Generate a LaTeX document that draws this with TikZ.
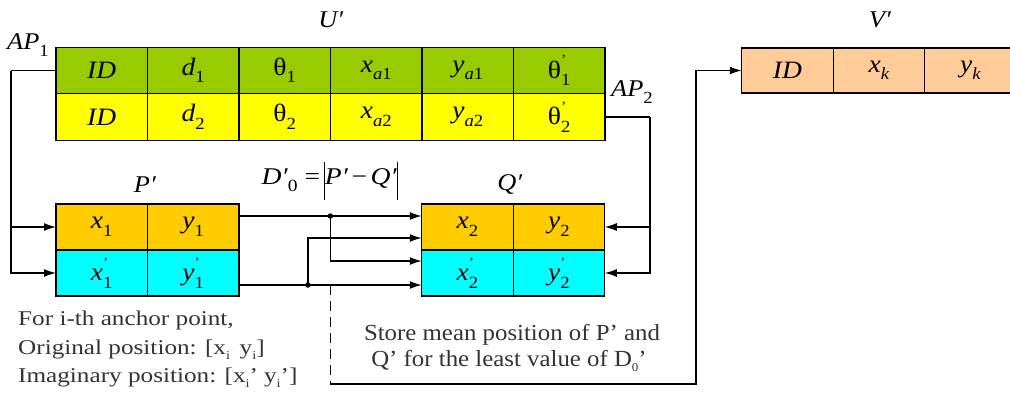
\documentclass[tikz,border=0pt]{standalone}
\usepackage{fontspec}
\setmainfont{Liberation Serif}
\usepackage{graphicx}
\usetikzlibrary{arrows.meta,calc}

\definecolor{cgreen}{HTML}{99CC00}
\definecolor{cyellow}{HTML}{FFFF00}
\definecolor{corange}{HTML}{FFCC00}
\definecolor{ccyan}{HTML}{00FFFF}
\definecolor{cpeach}{HTML}{FFCC99}
\definecolor{ctext}{HTML}{333333}

\newcommand\sx[2]{\scalebox{#1}[1]{#2}}
\newcommand\lo[1]{\raisebox{-0.3em}{\fontsize{17}{17}\selectfont #1}}
\newcommand\pr{\rlap{\raisebox{0.55em}{\fontsize{14}{14}\selectfont '}}}
\newcommand\tsub[1]{\raisebox{-0.25em}{\fontsize{12}{12}\selectfont #1}}
\newcommand\vbar{\raisebox{-0.65em}{\rule{1.2pt}{1.55em}}}

\tikzset{
  cell/.style={draw=black, line width=1.3pt, minimum width=91.5pt, minimum height=46.5pt,
    inner sep=0pt, outer sep=0pt, font=\fontsize{25}{27}\selectfont},
  ug/.style={cell, fill=cgreen},
  uy/.style={cell, fill=cyellow},
  po/.style={cell, fill=corange, minimum height=46pt},
  pc/.style={cell, fill=ccyan, minimum height=46pt},
  vp/.style={cell, fill=cpeach, minimum height=45pt},
  lab/.style={inner sep=0pt, font=\fontsize{24}{26}\selectfont},
  note/.style={inner sep=0pt, text=ctext},
  conn/.style={line width=1.3pt, draw=black},
  arr/.style={conn, -{Latex[length=12pt,width=8pt]}},
  dot/.style={circle, fill=black, inner sep=0pt, minimum size=5.5pt},
}

\begin{document}
\begin{tikzpicture}[x=1pt, y=-1pt]
\useasboundingbox (0,0) rectangle (1010,405);
\clip (0,0) rectangle (1010,405);

% U' table
\node[ug] (u11) at (101.75,70.5) {\sx{1.1}{\textit{ID}}};
\node[ug] (u12) at (193.25,70.5) {\sx{1.1}{\textit{d}\lo{1}}};
\node[ug] (u13) at (284.75,70.5) {\sx{1.1}{θ\lo{1}}};
\node[ug] (u14) at (376.25,70.5) {\sx{1.1}{\textit{x}\lo{\textit{a}1}}};
\node[ug] (u15) at (467.75,70.5) {\sx{1.1}{\textit{y}\lo{\textit{a}1}}};
\node[ug] (u16) at (559.25,70.5) {\sx{1.1}{θ\pr\lo{1}}};
\node[uy] (u21) at (101.75,117) {\sx{1.1}{\textit{ID}}};
\node[uy] (u22) at (193.25,117) {\sx{1.1}{\textit{d}\lo{2}}};
\node[uy] (u23) at (284.75,117) {\sx{1.1}{θ\lo{2}}};
\node[uy] (u24) at (376.25,117) {\sx{1.1}{\textit{x}\lo{\textit{a}2}}};
\node[uy] (u25) at (467.75,117) {\sx{1.1}{\textit{y}\lo{\textit{a}2}}};
\node[uy] (u26) at (559.25,117) {\sx{1.1}{θ\pr\lo{2}}};

% P' table
\node[po] (p11) at (101.75,227) {\sx{1.1}{\textit{x}\lo{1}}};
\node[po] (p12) at (193.25,227) {\sx{1.1}{\textit{y}\lo{1}}};
\node[pc] (p21) at (101.75,273) {\sx{1.1}{\textit{x}\pr\lo{1}}};
\node[pc] (p22) at (193.25,273) {\sx{1.1}{\textit{y}\pr\lo{1}}};

% Q' table
\node[po] (q11) at (467.5,227) {\sx{1.1}{\textit{x}\lo{2}}};
\node[po] (q12) at (559,227) {\sx{1.1}{\textit{y}\lo{2}}};
\node[pc] (q21) at (467.5,273) {\sx{1.1}{\textit{x}\pr\lo{2}}};
\node[pc] (q22) at (559,273) {\sx{1.1}{\textit{y}\pr\lo{2}}};

% V' table
\node[vp] (v1) at (787.5,70.5) {\sx{1.1}{\textit{ID}}};
\node[vp] (v2) at (879,70.5) {\sx{1.1}{\textit{x}\lo{\textit{k}}}};
\node[vp] (v3) at (970.5,70.5) {\sx{1.1}{\textit{y}\lo{\textit{k}}}};

% labels
\node[lab] (lu) at (331,20) {\sx{1.1}{\textit{U′}}};
\node[lab] (lv) at (880,20) {\sx{1.1}{\textit{V′}}};
\node[lab] (lp) at (145,185) {\sx{1.1}{\textit{P′}}};
\node[lab] (lq) at (510,184) {\sx{1.1}{\textit{Q′}}};
\node[lab] (ld) at (330,181) {\sx{1.15}{\textit{D′}\lo{0}\hspace{6pt}=\hspace{3pt}\vbar\textit{P′}\hspace{3pt}−\hspace{3pt}\textit{Q′}\vbar}};
\node[lab] (ap1) at (28,45) {\sx{1.1}{\textit{AP}\lo{1}}};
\node[lab] (ap2) at (632,92) {\sx{1.1}{\textit{AP}\lo{2}}};

% notes
\node[note, anchor=base west, font=\fontsize{21}{23}\selectfont] (n1) at (18,325) {\sx{1.2}{For i-th anchor point,}};
\node[note, anchor=base west, font=\fontsize{21}{23}\selectfont] (n2) at (18,354) {\sx{1.2}{Original position: [x\tsub{i}\hspace{8pt}y\tsub{i}]}};
\node[note, anchor=base west, font=\fontsize{21}{23}\selectfont] (n3) at (18,382) {\sx{1.2}{Imaginary position: [x\tsub{i}’\hspace{5pt}y\tsub{i}’]}};
\node[note, anchor=base, font=\fontsize{23}{25}\selectfont] (n4) at (512,340) {\sx{1.08}{Store mean position of P’ and}};
\node[note, anchor=base, font=\fontsize{23}{25}\selectfont] (n5) at (509,366) {\sx{1.08}{Q’ for the least value of D\tsub{0}’}};

% AP1 connector
\coordinate (a1) at (11,70.5);
\draw[conn] (u11.west) -- (a1);
\draw[arr] (a1) |- (p21.west);
\draw[arr] (a1 |- p11.west) -- (p11.west);

% AP2 connector
\coordinate (a2) at (650,117);
\draw[conn] (u26.east) -- (a2);
\draw[arr] (a2) |- (q22.east);
\draw[arr] (a2 |- q12.east) -- (q12.east);

% P' to Q'
\coordinate (po1) at ([yshift=11pt]p12.east);
\coordinate (po2) at ([yshift=-12pt]p22.east);
\coordinate (qi1) at ([yshift=11pt]q11.west);
\coordinate (qi2) at ([yshift=-11pt]q11.west);
\coordinate (qi3) at ([yshift=12pt]q21.west);
\coordinate (qi4) at ([yshift=-12pt]q21.west);
\path (po1) -- coordinate[pos=0.5] (d1) (qi1);
\path (po2) -- coordinate[pos=0.377] (d2) (qi4);
\draw[arr] (po1) -- (qi1);
\draw[arr] (d1) |- (qi3);
\draw[arr] (po2) -- (qi4);
\draw[arr] (d2) |- (qi2);
\node[dot] (dd1) at (d1) {};
\node[dot] (dd2) at (d2) {};

% store connector
\coordinate (s1) at ($(d1)+(0,168)$);
\coordinate (s2) at (696,384);
\draw[conn, dash pattern=on 10pt off 6pt] (d1 |- po2) -- (s1);
\draw[arr] (s1) -- (s2) |- (v1.west);
\end{tikzpicture}
\end{document}
